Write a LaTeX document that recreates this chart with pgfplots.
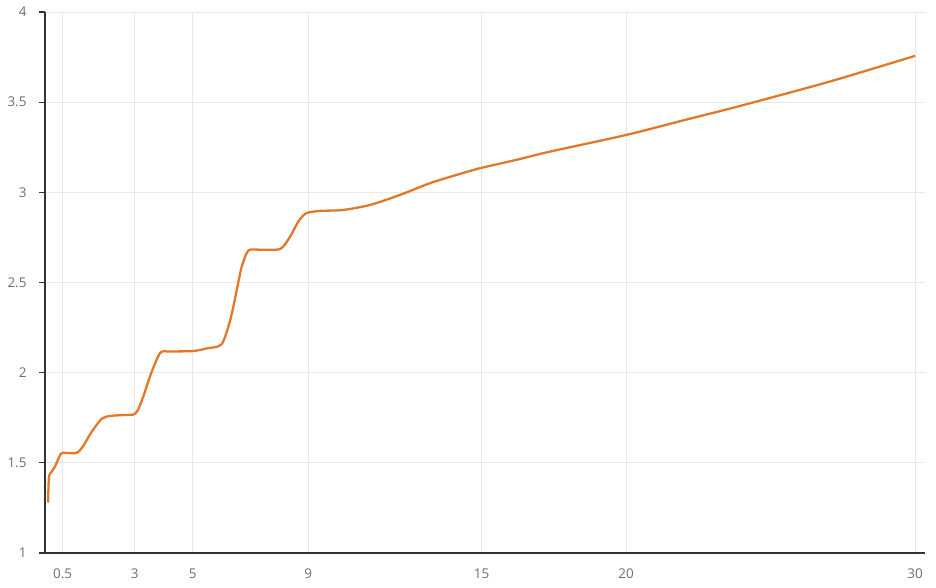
\documentclass[border=0pt]{standalone}
\usepackage{pgfplots}
\pgfplotsset{compat=1.18}
\usepackage{fontspec}
\setmainfont{Open Sans}
\definecolor{curve}{HTML}{E2792A}
\definecolor{gridc}{HTML}{E8E8E8}
\definecolor{axisc}{HTML}{333333}
\definecolor{labc}{HTML}{6E6E6E}
\begin{document}
\begin{tikzpicture}
\begin{axis}[
  at={(0,0)}, anchor=south west,
  scale only axis,
  width=880bp, height=541bp,
  xmin=-0.107, xmax=30.34,
  ymin=1, ymax=4,
  axis lines=left,
  axis line style={-, color=axisc, line width=1.3bp},
  xtick={0.5,3,5,9,15,20,30},
  xticklabels={0.5,3,5,9,15,20,30},
  ytick={1,1.5,2,2.5,3,3.5,4},
  yticklabels={1,1.5,2,2.5,3,3.5,4},
  xtick style={draw=none},
  ytick style={color=axisc, line width=1.3bp},
  tick align=outside,
  major tick length=6bp,
  grid=major,
  major grid style={color=gridc, line width=0.9bp},
  ticklabel style={font=\fontsize{13.5}{15}\selectfont, color=labc},
  xticklabel style={yshift=-6bp},
  yticklabel style={xshift=-9bp},
  /pgf/number format/assume math mode=true,
  clip=false,
]
\addplot[color=curve, line width=2.3bp, smooth, tension=0.45] coordinates {
(0,1.28) (0.03,1.42) (0.12,1.45) (0.24,1.48) (0.44,1.55) (0.6,1.555) (0.99,1.555)
(1.2,1.59) (1.5,1.67) (1.86,1.745) (2.15,1.76) (2.6,1.765) (2.95,1.768)
(3.1,1.79) (3.3,1.87) (3.55,1.99) (3.88,2.11) (4.22,2.117) (5.03,2.12)
(5.5,2.135) (6.0,2.157) (6.3,2.29) (6.53,2.46) (6.7,2.588) (6.93,2.677)
(7.33,2.682) (8.03,2.686) (8.37,2.754) (8.66,2.838) (8.93,2.884) (9.41,2.897)
(10.2,2.902) (11.14,2.93) (12.18,2.986) (13.2,3.05) (14.14,3.097) (14.95,3.134)
(16.2,3.18) (17.37,3.226) (20,3.318) (22,3.4) (23.94,3.479) (27.06,3.615) (30,3.757)
};
\end{axis}
\pgfresetboundingbox
\path[use as bounding box] (-45bp,-35bp) rectangle (891bp,553bp);
\end{tikzpicture}
\end{document}
